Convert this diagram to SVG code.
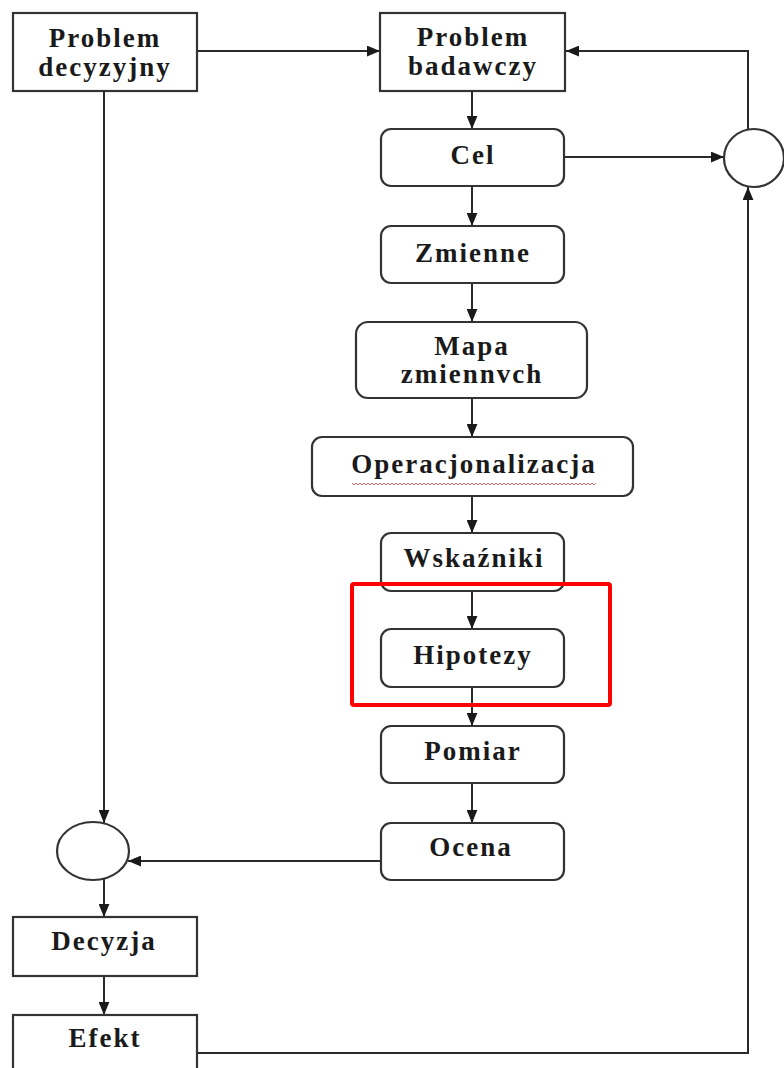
<svg xmlns="http://www.w3.org/2000/svg" width="784" height="1068" viewBox="0 0 784 1068">
<style>
.box{fill:#fff;stroke:#333;stroke-width:2.2}
.ln{fill:none;stroke:#2a2a2a;stroke-width:2}
.t{font-family:"Liberation Serif","Times New Roman",serif;font-weight:bold;font-size:27px;letter-spacing:2px;fill:#1a1a1a;text-anchor:middle}
</style>
<defs>
<marker id="ah" viewBox="0 0 12 10" refX="12" refY="5" markerWidth="13" markerHeight="11" markerUnits="userSpaceOnUse" orient="auto">
<path d="M0,0 L12,5 L0,10 z" fill="#1a1a1a"/>
</marker>
<clipPath id="wclip"><rect x="352" y="478" width="244" height="12"/></clipPath>
</defs>
<rect width="784" height="1068" fill="#fff"/>
<g id="connectors">
<line class="ln" x1="197" y1="51" x2="380" y2="51" marker-end="url(#ah)"/>
<polyline class="ln" points="748,129 748,51 566,51" marker-end="url(#ah)"/>
<line class="ln" x1="564" y1="157" x2="724" y2="157" marker-end="url(#ah)"/>
<polyline class="ln" points="197,1053 748,1053 748,187" marker-end="url(#ah)"/>
<line class="ln" x1="472" y1="91" x2="472" y2="129" marker-end="url(#ah)"/>
<line class="ln" x1="472" y1="186" x2="472" y2="226" marker-end="url(#ah)"/>
<line class="ln" x1="472" y1="283" x2="472" y2="322" marker-end="url(#ah)"/>
<line class="ln" x1="472" y1="398" x2="472" y2="437" marker-end="url(#ah)"/>
<line class="ln" x1="472" y1="496" x2="472" y2="533" marker-end="url(#ah)"/>
<line class="ln" x1="472" y1="591" x2="472" y2="629" marker-end="url(#ah)"/>
<line class="ln" x1="472" y1="687" x2="472" y2="726" marker-end="url(#ah)"/>
<line class="ln" x1="472" y1="783" x2="472" y2="823" marker-end="url(#ah)"/>
<line class="ln" x1="380" y1="861" x2="128" y2="861" marker-end="url(#ah)"/>
<line class="ln" x1="104" y1="91" x2="104" y2="823" marker-end="url(#ah)"/>
<line class="ln" x1="104" y1="879" x2="104" y2="917" marker-end="url(#ah)"/>
<line class="ln" x1="104" y1="976" x2="104" y2="1015" marker-end="url(#ah)"/>
</g>
<g id="problem-decyzyjny">
<rect class="box" x="13" y="13" width="184" height="78"/>
<text class="t" x="105" y="47">Problem</text>
<text class="t" x="105" y="76">decyzyjny</text>
</g>
<g id="problem-badawczy">
<rect class="box" x="380" y="13" width="185" height="78"/>
<text class="t" x="473" y="46">Problem</text>
<text class="t" x="473" y="75">badawczy</text>
</g>
<g id="cel">
<rect class="box" x="381" y="129" width="183" height="57" rx="10"/>
<text class="t" x="473" y="164">Cel</text>
</g>
<g id="kolo-prawe">
<ellipse class="box" cx="754" cy="158" rx="30" ry="29"/>
</g>
<g id="zmienne">
<rect class="box" x="381" y="226" width="183" height="57" rx="10"/>
<text class="t" x="473" y="262">Zmienne</text>
</g>
<g id="mapa">
<rect class="box" x="356" y="322" width="231" height="76" rx="12"/>
<text class="t" x="472" y="355">Mapa</text>
<text class="t" x="472" y="383">zmiennvch</text>
</g>
<g id="operacjonalizacja">
<rect class="box" x="312" y="437" width="321" height="59" rx="10"/>
<text class="t" x="474" y="473">Operacjonalizacja</text>
<path clip-path="url(#wclip)" d="M352,483 l2,2 l2,-2 l2,2 l2,-2 l2,2 l2,-2 l2,2 l2,-2 l2,2 l2,-2 l2,2 l2,-2 l2,2 l2,-2 l2,2 l2,-2 l2,2 l2,-2 l2,2 l2,-2 l2,2 l2,-2 l2,2 l2,-2 l2,2 l2,-2 l2,2 l2,-2 l2,2 l2,-2 l2,2 l2,-2 l2,2 l2,-2 l2,2 l2,-2 l2,2 l2,-2 l2,2 l2,-2 l2,2 l2,-2 l2,2 l2,-2 l2,2 l2,-2 l2,2 l2,-2 l2,2 l2,-2 l2,2 l2,-2 l2,2 l2,-2 l2,2 l2,-2 l2,2 l2,-2 l2,2 l2,-2 l2,2 l2,-2 l2,2 l2,-2 l2,2 l2,-2 l2,2 l2,-2 l2,2 l2,-2 l2,2 l2,-2 l2,2 l2,-2 l2,2 l2,-2 l2,2 l2,-2 l2,2 l2,-2 l2,2 l2,-2 l2,2 l2,-2 l2,2 l2,-2 l2,2 l2,-2 l2,2 l2,-2 l2,2 l2,-2 l2,2 l2,-2 l2,2 l2,-2 l2,2 l2,-2 l2,2 l2,-2 l2,2 l2,-2 l2,2 l2,-2 l2,2 l2,-2 l2,2 l2,-2 l2,2 l2,-2 l2,2 l2,-2 l2,2 l2,-2 l2,2 l2,-2 l2,2 l2,-2 l2,2 l2,-2 l2,2 l2,-2 l2,2 l2,-2 l2,2 l2,-2 l2,2 l2,-2 l2,2 l2,-2 l2,2 l2,-2 l2,2 l2,-2 l2,2 l2,-2 l2,2" fill="none" stroke="#e04040" stroke-width="0.8"/>
</g>
<g id="wskazniki">
<rect class="box" x="381" y="533" width="183" height="58" rx="10"/>
<text class="t" x="474" y="567">Wskaźniki</text>
</g>
<g id="hipotezy">
<rect class="box" x="381" y="629" width="183" height="58" rx="10"/>
<text class="t" x="473" y="664">Hipotezy</text>
</g>
<g id="wyroznienie">
<rect x="352" y="584" width="258" height="121" rx="2" fill="none" stroke="#f00" stroke-width="4"/>
</g>
<g id="pomiar">
<rect class="box" x="381" y="726" width="183" height="57" rx="10"/>
<text class="t" x="473" y="760">Pomiar</text>
</g>
<g id="ocena">
<rect class="box" x="381" y="823" width="183" height="57" rx="10"/>
<text class="t" x="471" y="856">Ocena</text>
</g>
<g id="kolo-lewe">
<ellipse class="box" cx="93" cy="851" rx="36" ry="29"/>
</g>
<g id="decyzja">
<rect class="box" x="13" y="917" width="184" height="59"/>
<text class="t" x="104" y="950">Decyzja</text>
</g>
<g id="efekt">
<rect class="box" x="13" y="1015" width="184" height="65"/>
<text class="t" x="105" y="1047">Efekt</text>
</g>
</svg>
